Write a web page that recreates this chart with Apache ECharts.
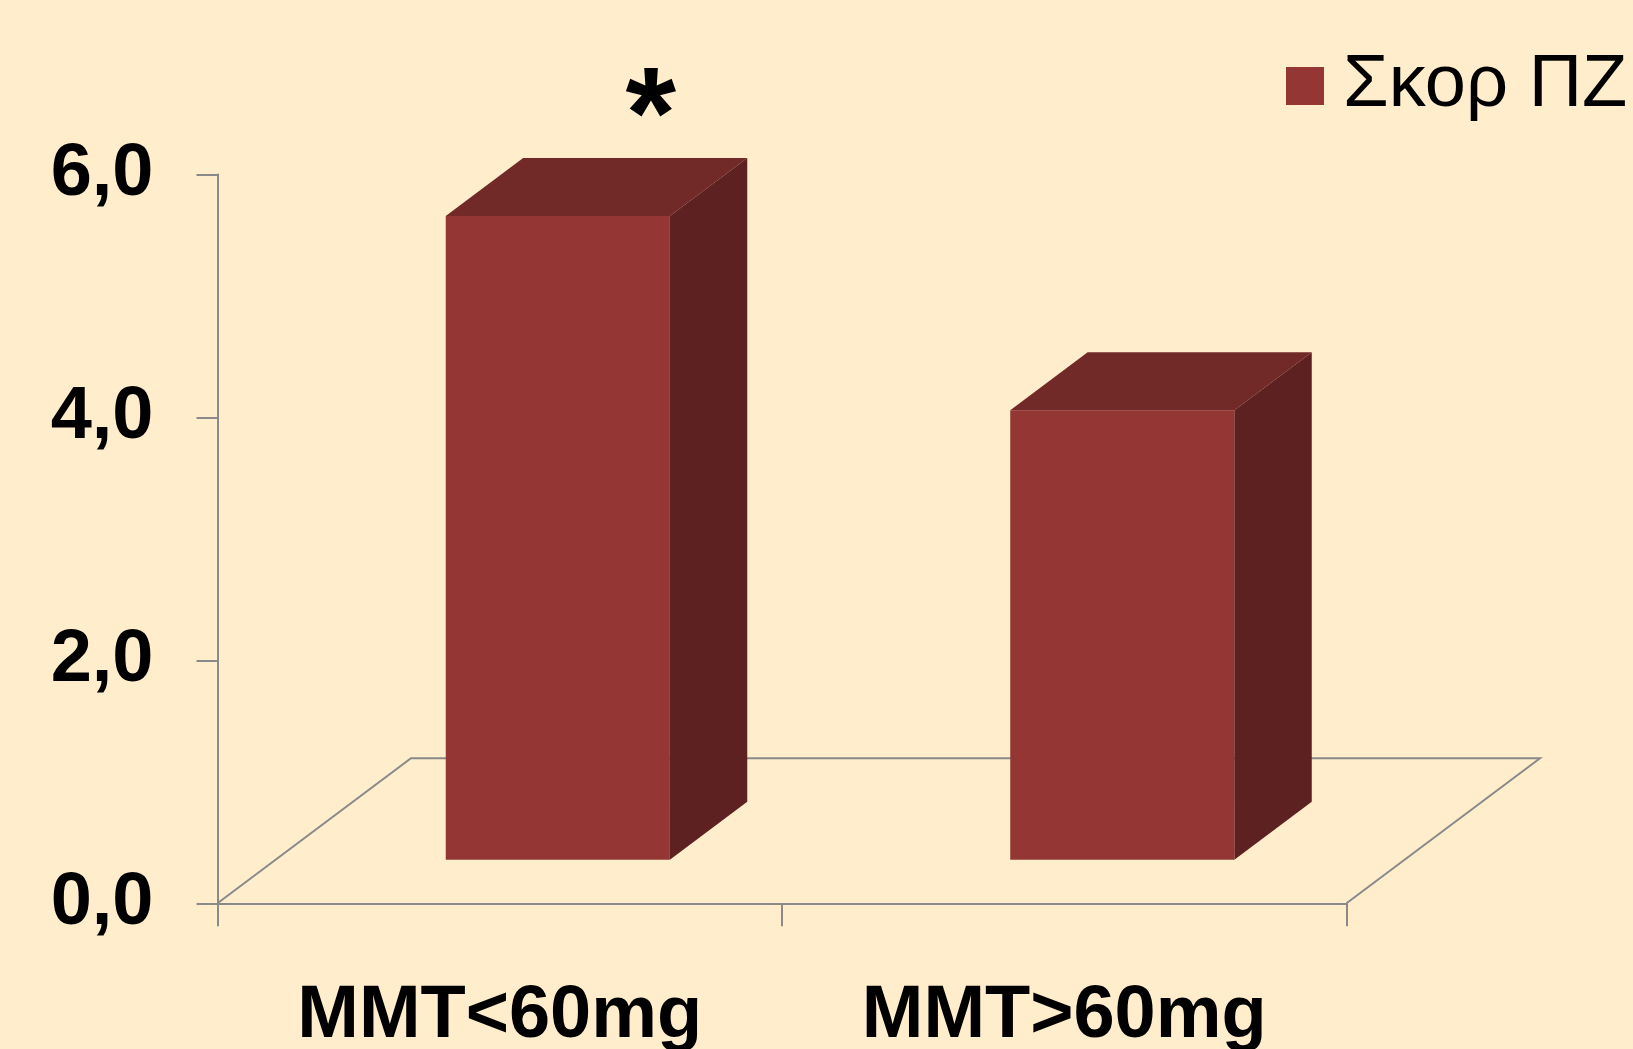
<!DOCTYPE html>
<html><head><meta charset="utf-8">
<script src="https://cdn.jsdelivr.net/npm/echarts@6/dist/echarts.min.js"></script>
<style>html,body{margin:0;padding:0;background:#FFEDCC;} #c{width:1633px;height:1049px;}</style>
</head><body><div id="c"></div>
<script>
// ---- data ----
const categories = ['MMT<60mg', 'MMT>60mg'];
const seriesName = 'Σκορ ΠΖ';
const values = [5.3, 3.7];
const marks = ['*', ''];
const yMin = 0, yMax = 6, yStep = 2;

// ---- styling constants (pixel offsets for the oblique 3D look) ----
const FLOOR_DX = 193.5, FLOOR_DY = 145;
const BAR_FRONT = 0.30, BAR_BACK = 0.70;
const BAR_W_FRAC = 0.397;
const C_FRONT = '#943634', C_TOP = '#722A28', C_SIDE = '#5E2121';
const AXIS_C = '#8a8a8a';
const FONT = '"Liberation Sans", Arial, sans-serif';

const chart = echarts.init(document.getElementById('c'));

function renderFloor(params, api) {
  const cs = params.coordSys;
  const x = cs.x, y = cs.y + cs.height, w = cs.width;
  return {
    type: 'polyline',
    shape: { points: [[x, y], [x + FLOOR_DX, y - FLOOR_DY], [x + w + FLOOR_DX, y - FLOOR_DY], [x + w, y]] },
    style: { stroke: AXIS_C, lineWidth: 2, fill: null }
  };
}

function renderBar(params, api) {
  const idx = api.value(0), v = api.value(1);
  const base = api.coord([idx, 0]);
  const top = api.coord([idx, v]);
  const bw = api.size([1, 0])[0] * BAR_W_FRAC;
  const fx = FLOOR_DX * BAR_FRONT, fy = FLOOR_DY * BAR_FRONT;
  const ddx = FLOOR_DX * (BAR_BACK - BAR_FRONT), ddy = FLOOR_DY * (BAR_BACK - BAR_FRONT);
  const x0 = base[0] - bw / 2 + fx, x1 = base[0] + bw / 2 + fx;
  const yb = base[1] - fy, yt = top[1] - fy;
  const mark = marks[params.dataIndex];
  const children = [
    { type: 'rect', shape: { x: x0, y: yt, width: x1 - x0, height: yb - yt }, style: { fill: C_FRONT } },
    { type: 'polygon', shape: { points: [[x0, yt], [x1, yt], [x1 + ddx, yt - ddy], [x0 + ddx, yt - ddy]] }, style: { fill: C_TOP } },
    { type: 'polygon', shape: { points: [[x1, yt], [x1 + ddx, yt - ddy], [x1 + ddx, yb - ddy], [x1, yb]] }, style: { fill: C_SIDE } }
  ];
  if (mark) {
    children.push({
      type: 'text',
      style: { text: mark, x: base[0] + fx + 93, y: yt - 94, fill: '#000', fontSize: 130, fontWeight: 'bold', fontFamily: FONT, align: 'center', verticalAlign: 'middle' }
    });
  }
  return { type: 'group', children };
}

chart.setOption({
  backgroundColor: '#FFEDCC',
  animation: false,
  grid: { left: 217.5, right: 286.5, top: 174.5, bottom: 145.7, containLabel: false, outerBoundsMode: 'none' },
  legend: {
    data: [seriesName], left: 1286, top: 49, padding: 0,
    icon: 'rect', itemWidth: 38, itemHeight: 38,
    textStyle: { fontSize: 74, fontFamily: FONT, color: '#000', lineHeight: 74, padding: [0, 0, 0, 14] }
  },
  xAxis: {
    type: 'category', data: categories, boundaryGap: true,
    axisLine: { show: true, lineStyle: { color: AXIS_C, width: 2 } },
    axisTick: { show: true, length: 23, alignWithLabel: false, lineStyle: { color: AXIS_C, width: 2 } },
    axisLabel: { interval: 0, margin: 76, fontSize: 74, fontWeight: 'bold', fontFamily: FONT, color: '#000', lineHeight: 74 }
  },
  yAxis: {
    type: 'value', min: yMin, max: yMax, interval: yStep,
    axisLine: { show: true, lineStyle: { color: AXIS_C, width: 2 } },
    axisTick: { show: true, length: 21, lineStyle: { color: AXIS_C, width: 2 } },
    splitLine: { show: false },
    axisLabel: { margin: 64, fontSize: 74, fontWeight: 'bold', fontFamily: FONT, color: '#000', padding: [10, 0, 0, 0],
      formatter: v => v.toFixed(1).replace('.', ',') }
  },
  series: [
    { type: 'custom', name: 'floor', renderItem: renderFloor, data: [[0, 0]], silent: true, z: 1 },
    { type: 'custom', name: seriesName, renderItem: renderBar, itemStyle: { color: C_FRONT },
      data: values.map((v, i) => [i, v]), encode: { x: 0, y: 1 }, z: 2 }
  ]
});
</script></body></html>
